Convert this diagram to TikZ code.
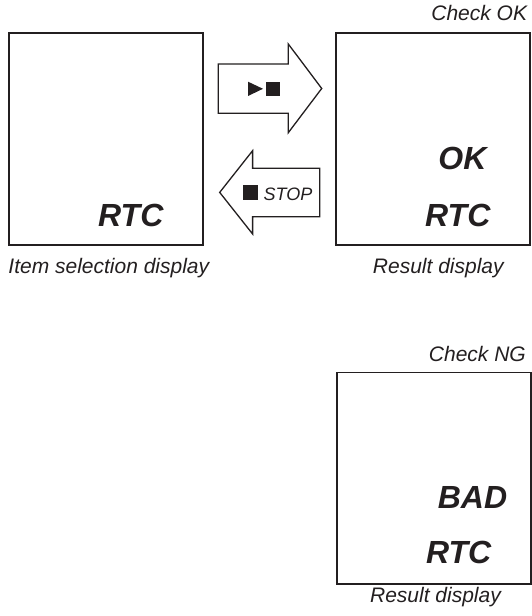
\documentclass[tikz,border=0pt]{standalone}
\usepackage{fontspec}
\setmainfont{Liberation Sans}
\definecolor{ink}{HTML}{231F20}
\begin{document}
\begin{tikzpicture}[x=1pt,y=1pt,
  screen/.style={draw=ink,line width=1.9pt,minimum width=194pt,minimum height=211.5pt,inner sep=0pt},
  bigtxt/.style={inner sep=0pt,anchor=base,text=ink,font=\fontsize{32}{36}\selectfont\bfseries\itshape},
  caption/.style={inner sep=0pt,text=ink,font=\fontsize{21}{24}\selectfont\itshape},
  flowarrow/.style={draw=ink,line width=1.3pt,line join=miter,fill=white}]
\useasboundingbox (0,0) rectangle (532,616);

% display screens
\node[screen] (sel) at (106.3,476.8) {};
\node[screen] (okres) at (433.3,476.8) {};
\node[screen] (ngres) at (433.8,137.7) {};

% screen contents
\node[bigtxt] (selrtc) at (130.8,389.3) {RTC};
\node[bigtxt] (okmark) at (462.4,446) {OK};
\node[bigtxt] (okrtc) at (457.8,389.3) {RTC};
\node[bigtxt] (badmark) at (472.5,107.7) {BAD};
\node[bigtxt] (ngrtc) at (458.7,52.7) {RTC};

% headings and captions
\node[caption,anchor=base east] (hdok) at (527.3,595.3) {Check OK};
\node[caption,anchor=base east] (hdng) at (526,254) {Check NG};
\node[caption,anchor=base] (capsel) at (108.8,342.7) {Item selection display};
\node[caption,anchor=base] (capok) at (438.3,342.7) {Result display};
\node[caption,anchor=base] (capng) at (435.5,13.3) {Result display};

% start arrow (to result)
\draw[flowarrow] (218.3,552) -- (288.3,552) -- (288.3,572) -- (321.7,527.5)
  -- (288.3,483.3) -- (288.3,502.7) -- (218.3,502.7) -- cycle;
\fill[ink] (248,534.3) -- (263,527.2) -- (248,520) -- cycle;
\fill[ink] (266,520) rectangle (280,534.3);

% stop arrow (back to selection)
\draw[flowarrow] (319.8,447.7) -- (252.6,447.7) -- (252.6,465.3) -- (219.7,423.6)
  -- (252.6,382) -- (252.6,399.3) -- (319.8,399.3) -- cycle;
\fill[ink] (242.5,416) rectangle (257.7,431);
\node[inner sep=0pt,anchor=base west,text=ink,font=\fontsize{18}{20}\selectfont\itshape] (stoptxt) at (263.5,415.5) {STOP};
\end{tikzpicture}
\end{document}
